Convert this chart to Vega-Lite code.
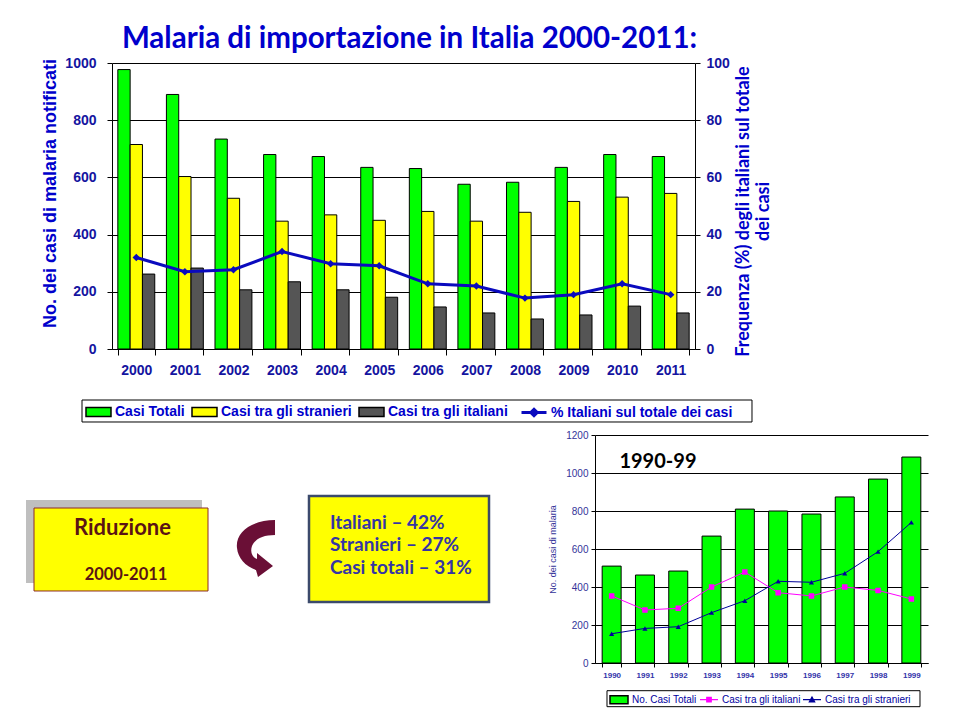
{
  "$schema": "https://vega.github.io/schema/vega-lite/v6.json",
  "width": 583,
  "height": 286,
  "padding": {"left": 112, "top": 63, "right": 265, "bottom": 371},
  "autosize": {"type": "none"},
  "background": "white",
  "config": {"view": {"stroke": null}, "font": "Liberation Sans"},
  "title": {
    "text": "Malaria di importazione in Italia 2000-2011:",
    "font": "Lato",
    "fontSize": 29.5,
    "fontWeight": "bold",
    "color": "#0000CC",
    "anchor": "middle",
    "frame": "group",
    "baseline": "alphabetic",
    "offset": 5,
    "dx": 6,
    "dy": 26
  },
  "datasets": {
    "casi2000": [
      {"anno": "2000", "serie": "Casi Totali", "casi": 977},
      {"anno": "2000", "serie": "Casi tra gli stranieri", "casi": 715},
      {"anno": "2000", "serie": "Casi tra gli italiani", "casi": 262},
      {"anno": "2001", "serie": "Casi Totali", "casi": 890},
      {"anno": "2001", "serie": "Casi tra gli stranieri", "casi": 603},
      {"anno": "2001", "serie": "Casi tra gli italiani", "casi": 283},
      {"anno": "2002", "serie": "Casi Totali", "casi": 734},
      {"anno": "2002", "serie": "Casi tra gli stranieri", "casi": 527},
      {"anno": "2002", "serie": "Casi tra gli italiani", "casi": 207},
      {"anno": "2003", "serie": "Casi Totali", "casi": 680},
      {"anno": "2003", "serie": "Casi tra gli stranieri", "casi": 447},
      {"anno": "2003", "serie": "Casi tra gli italiani", "casi": 235},
      {"anno": "2004", "serie": "Casi Totali", "casi": 673},
      {"anno": "2004", "serie": "Casi tra gli stranieri", "casi": 469},
      {"anno": "2004", "serie": "Casi tra gli italiani", "casi": 207},
      {"anno": "2005", "serie": "Casi Totali", "casi": 635},
      {"anno": "2005", "serie": "Casi tra gli stranieri", "casi": 450},
      {"anno": "2005", "serie": "Casi tra gli italiani", "casi": 181},
      {"anno": "2006", "serie": "Casi Totali", "casi": 631},
      {"anno": "2006", "serie": "Casi tra gli stranieri", "casi": 481},
      {"anno": "2006", "serie": "Casi tra gli italiani", "casi": 147},
      {"anno": "2007", "serie": "Casi Totali", "casi": 576},
      {"anno": "2007", "serie": "Casi tra gli stranieri", "casi": 447},
      {"anno": "2007", "serie": "Casi tra gli italiani", "casi": 126},
      {"anno": "2008", "serie": "Casi Totali", "casi": 583},
      {"anno": "2008", "serie": "Casi tra gli stranieri", "casi": 478},
      {"anno": "2008", "serie": "Casi tra gli italiani", "casi": 105},
      {"anno": "2009", "serie": "Casi Totali", "casi": 635},
      {"anno": "2009", "serie": "Casi tra gli stranieri", "casi": 516},
      {"anno": "2009", "serie": "Casi tra gli italiani", "casi": 119},
      {"anno": "2010", "serie": "Casi Totali", "casi": 680},
      {"anno": "2010", "serie": "Casi tra gli stranieri", "casi": 531},
      {"anno": "2010", "serie": "Casi tra gli italiani", "casi": 150},
      {"anno": "2011", "serie": "Casi Totali", "casi": 673},
      {"anno": "2011", "serie": "Casi tra gli stranieri", "casi": 544},
      {"anno": "2011", "serie": "Casi tra gli italiani", "casi": 126}
    ],
    "perc2000": [
      {"anno": "2000", "pct": 32.0},
      {"anno": "2001", "pct": 27.0},
      {"anno": "2002", "pct": 27.7},
      {"anno": "2003", "pct": 34.1},
      {"anno": "2004", "pct": 29.8},
      {"anno": "2005", "pct": 29.1},
      {"anno": "2006", "pct": 22.8},
      {"anno": "2007", "pct": 22.0},
      {"anno": "2008", "pct": 17.8},
      {"anno": "2009", "pct": 19.0},
      {"anno": "2010", "pct": 22.8},
      {"anno": "2011", "pct": 19.0}
    ],
    "totali90": [
      {"anno": "1990", "serie": "No. Casi Totali", "casi": 510},
      {"anno": "1991", "serie": "No. Casi Totali", "casi": 463},
      {"anno": "1992", "serie": "No. Casi Totali", "casi": 484},
      {"anno": "1993", "serie": "No. Casi Totali", "casi": 668},
      {"anno": "1994", "serie": "No. Casi Totali", "casi": 810},
      {"anno": "1995", "serie": "No. Casi Totali", "casi": 800},
      {"anno": "1996", "serie": "No. Casi Totali", "casi": 784},
      {"anno": "1997", "serie": "No. Casi Totali", "casi": 874},
      {"anno": "1998", "serie": "No. Casi Totali", "casi": 968},
      {"anno": "1999", "serie": "No. Casi Totali", "casi": 1084}
    ],
    "italiani90": [
      {"anno": "1990", "casi": 353},
      {"anno": "1991", "casi": 279},
      {"anno": "1992", "casi": 288},
      {"anno": "1993", "casi": 400},
      {"anno": "1994", "casi": 479},
      {"anno": "1995", "casi": 370},
      {"anno": "1996", "casi": 353},
      {"anno": "1997", "casi": 400},
      {"anno": "1998", "casi": 382},
      {"anno": "1999", "casi": 337}
    ],
    "stranieri90": [
      {"anno": "1990", "casi": 154},
      {"anno": "1991", "casi": 182},
      {"anno": "1992", "casi": 191},
      {"anno": "1993", "casi": 265},
      {"anno": "1994", "casi": 328},
      {"anno": "1995", "casi": 430},
      {"anno": "1996", "casi": 425},
      {"anno": "1997", "casi": 472},
      {"anno": "1998", "casi": 586},
      {"anno": "1999", "casi": 740}
    ]
  },
  "layer": [
    {
      "layer": [
        {
          "data": {"name": "casi2000"},
          "mark": {"type": "bar", "stroke": "black", "strokeWidth": 1},
          "encoding": {
            "x": {
              "field": "anno", "type": "nominal",
              "scale": {"paddingInner": 0.24, "paddingOuter": 0.12},
              "axis": {"title": null, "labelAngle": 0, "tickBand": "extent", "tickSize": 6, "tickColor": "black", "domainColor": "black", "grid": false,
                       "labelFont": "Liberation Sans", "labelFontSize": 14, "labelFontWeight": "bold", "labelColor": "#1414A0", "labelPadding": 8}
            },
            "xOffset": {
              "field": "serie", "type": "nominal",
              "sort": ["Casi Totali", "Casi tra gli stranieri", "Casi tra gli italiani"],
              "scale": {"paddingInner": 0, "paddingOuter": 0}
            },
            "y": {
              "field": "casi", "type": "quantitative",
              "scale": {"domain": [0, 1000], "nice": false},
              "axis": {"orient": "left", "values": [0, 200, 400, 600, 800, 1000], "format": "d", "grid": true, "gridColor": "black", "gridOpacity": 1, "gridWidth": 1,
                       "domainColor": "black", "tickColor": "black", "tickSize": 5,
                       "labelFont": "Liberation Sans", "labelFontSize": 14, "labelFontWeight": "bold", "labelColor": "#1414A0", "labelPadding": 11,
                       "title": "No. dei casi di malaria notificati", "titleFont": "Liberation Sans", "titleFontSize": 18, "titleFontWeight": "bold", "titleColor": "#0000CC",
                       "titleAngle": 270, "titleX": -62, "titleY": 130, "titleAlign": "center", "titleBaseline": "middle"}
            },
            "fill": {
              "field": "serie", "type": "nominal",
              "scale": {"domain": ["Casi Totali", "Casi tra gli stranieri", "Casi tra gli italiani"],
                        "range": ["#00FF00", "#FFFF00", "#555555"]},
              "legend": {
                "orient": "none", "legendX": -27, "legendY": 335.5, "direction": "horizontal", "title": null, "padding": 0,
                "labelFont": "Liberation Sans", "labelFontSize": 14, "labelFontWeight": "bold", "labelColor": "#0000CC", "labelLimit": 400,
                "symbolType": "M-1,-0.36H1V0.36H-1Z", "symbolSize": 625, "symbolOpacity": 1, "labelOffset": 3, "columnPadding": 4
              }
            }
          }
        },
        {
          "data": {"name": "perc2000"},
          "mark": {"type": "line", "strokeWidth": 3, "point": {"shape": "diamond", "size": 55, "filled": true}},
          "encoding": {
            "x": {"field": "anno", "type": "nominal"},
            "y": {
              "field": "pct", "type": "quantitative",
              "scale": {"domain": [0, 100], "nice": false},
              "axis": {"orient": "right", "values": [0, 20, 40, 60, 80, 100], "grid": false,
                       "domainColor": "black", "tickColor": "black", "tickSize": 5,
                       "labelFont": "Liberation Sans", "labelFontSize": 14, "labelFontWeight": "bold", "labelColor": "#1414A0", "labelPadding": 6,
                       "title": ["Frequenza (%) degli italiani sul totale", "dei casi"],
                       "titleFont": "Lato", "titleFontSize": 18, "titleFontWeight": "bold", "titleColor": "#0000CC",
                       "titleAngle": 270, "titleX": 39, "titleY": 148, "titleAlign": "center", "titleBaseline": "top", "titleLineHeight": 20}
            },
            "color": {
              "datum": "% Italiani sul totale dei casi", "type": "nominal",
              "scale": {"domain": ["% Italiani sul totale dei casi"], "range": ["#0A0ABE"]},
              "legend": {
                "orient": "none", "legendX": 408, "legendY": 335.5, "title": null, "padding": 0,
                "labelFont": "Liberation Sans", "labelFontSize": 14, "labelFontWeight": "bold", "labelColor": "#0000CC", "labelLimit": 400,
                "symbolType": "M-1,0H1M-0.26,0L0,-0.26L0.26,0L0,0.26Z", "symbolSize": 625, "symbolOpacity": 1, "symbolFillColor": "#0A0ABE", "symbolStrokeWidth": 3, "labelOffset": 3
              }
            }
          }
        }
      ],
      "resolve": {"scale": {"y": "independent"}}
    },
    {
      "layer": [
        {
          "data": {"name": "totali90"},
          "mark": {"type": "bar", "stroke": "black", "strokeWidth": 1},
          "encoding": {
            "x": {
              "field": "anno", "type": "nominal",
              "scale": {"range": [483, 816], "paddingInner": 0.43, "paddingOuter": 0.215},
              "axis": {"orient": "bottom", "offset": 314, "title": null, "labelAngle": 0, "tickBand": "extent", "tickSize": 4, "tickColor": "black", "domainColor": "black", "grid": false,
                       "labelFont": "Liberation Sans", "labelFontSize": 8, "labelFontWeight": "bold", "labelColor": "#3333AA", "labelPadding": 4}
            },
            "y": {
              "field": "casi", "type": "quantitative",
              "scale": {"domain": [0, 1200], "range": [600, 372], "nice": false},
              "axis": {"orient": "left", "offset": -483, "values": [0, 200, 400, 600, 800, 1000, 1200], "format": "d", "grid": true, "gridColor": "black", "gridOpacity": 1, "gridWidth": 1,
                       "domainColor": "black", "tickColor": "black", "tickSize": 4,
                       "labelFont": "Liberation Sans", "labelFontSize": 10, "labelColor": "#333399", "labelPadding": 3,
                       "title": "No. dei casi di malaria", "titleFont": "Liberation Sans", "titleFontSize": 9, "titleFontWeight": "normal", "titleColor": "#333399", "titlePadding": 8}
            },
            "fill": {
              "field": "serie", "type": "nominal",
              "scale": {"domain": ["No. Casi Totali"], "range": ["#00FF00"]},
              "legend": {
                "orient": "none", "legendX": 497, "legendY": 626.7, "title": null, "padding": 0,
                "labelFont": "Liberation Sans", "labelFontSize": 10, "labelColor": "#0000A0", "labelLimit": 300,
                "symbolType": "M-1,-0.45H1V0.45H-1Z", "symbolSize": 324, "symbolOpacity": 1, "labelOffset": 3
              }
            }
          }
        },
        {
          "data": {"name": "italiani90"},
          "mark": {"type": "line", "strokeWidth": 1, "point": {"shape": "square", "size": 12, "filled": true, "color": "#FF00FF"}},
          "encoding": {
            "x": {"field": "anno", "type": "nominal"},
            "y": {"field": "casi", "type": "quantitative"},
            "stroke": {
              "datum": "Casi tra gli italiani", "type": "nominal",
              "scale": {"domain": ["Casi tra gli italiani"], "range": ["#FF00FF"]},
              "legend": {
                "orient": "none", "legendX": 587, "legendY": 626.7, "title": null, "padding": 0,
                "labelFont": "Liberation Sans", "labelFontSize": 10, "labelColor": "#0000A0", "labelLimit": 300,
                "symbolType": "M-1,0H1M-0.25,-0.25H0.25V0.25H-0.25Z", "symbolSize": 324, "symbolOpacity": 1, "symbolFillColor": "#FF00FF", "symbolStrokeWidth": 1.2, "labelOffset": 3
              }
            }
          }
        },
        {
          "data": {"name": "stranieri90"},
          "mark": {"type": "line", "strokeWidth": 1, "point": {"shape": "triangle-up", "size": 26, "filled": true}},
          "encoding": {
            "x": {"field": "anno", "type": "nominal"},
            "y": {"field": "casi", "type": "quantitative"},
            "color": {
              "datum": "Casi tra gli stranieri", "type": "nominal",
              "scale": {"domain": ["Casi tra gli stranieri"], "range": ["#000099"]},
              "legend": {
                "orient": "none", "legendX": 690, "legendY": 626.7, "title": null, "padding": 0,
                "labelFont": "Liberation Sans", "labelFontSize": 10, "labelColor": "#0000A0", "labelLimit": 300,
                "symbolType": "M-1,0H1M0,-0.3L0.3,0.25H-0.3Z", "symbolSize": 324, "symbolOpacity": 1, "symbolFillColor": "#000099", "symbolStrokeColor": "#000099", "symbolStrokeWidth": 1.2, "labelOffset": 3
              }
            }
          }
        },
        {
          "data": {"values": [{"etichetta": "1990-99"}]},
          "mark": {"type": "text", "font": "Lato", "fontSize": 20, "fontWeight": "bold", "color": "black", "align": "center", "baseline": "middle", "dx": 13},
          "encoding": {
            "x": {"datum": "1991", "type": "nominal"},
            "y": {"datum": 1058, "type": "quantitative"},
            "text": {"field": "etichetta"}
          }
        }
      ]
    },
    {
      "data": {"values": [{}]},
      "layer": [
        {
          "mark": {"type": "rect", "filled": false, "stroke": "black", "strokeWidth": 1},
          "encoding": {
            "x": {"datum": 8.542, "type": "quantitative", "scale": {"domain": [0, 100], "range": [-112, 848], "nice": false, "zero": false}, "axis": null},
            "x2": {"datum": 78.333},
            "y": {"datum": 55.556, "type": "quantitative", "scale": {"domain": [0, 100], "range": [-63, 657], "nice": false, "zero": false}, "axis": null},
            "y2": {"datum": 58.611}
          }
        },
        {
          "mark": {"type": "rect", "filled": false, "stroke": "black", "strokeWidth": 1},
          "encoding": {
            "x": {"datum": 63.229, "type": "quantitative"},
            "x2": {"datum": 95.833},
            "y": {"datum": 95.93, "type": "quantitative"},
            "y2": {"datum": 98.15}
          }
        },
        {
          "mark": {"type": "rect", "fill": "#BFBFBF"},
          "encoding": {
            "x": {"datum": 2.708, "type": "quantitative"},
            "x2": {"datum": 21.042},
            "y": {"datum": 69.444, "type": "quantitative"},
            "y2": {"datum": 80.972}
          }
        },
        {
          "mark": {"type": "rect", "fill": "#FFFF00", "stroke": "#8B2A2A", "strokeWidth": 1},
          "encoding": {
            "x": {"datum": 3.542, "type": "quantitative"},
            "x2": {"datum": 21.667},
            "y": {"datum": 70.556, "type": "quantitative"},
            "y2": {"datum": 82.083}
          }
        },
        {
          "mark": {"type": "text", "text": "Riduzione", "font": "Lato", "fontSize": 22, "fontWeight": "bold", "color": "#5A1414", "align": "center", "baseline": "alphabetic"},
          "encoding": {
            "x": {"datum": 12.76, "type": "quantitative"},
            "y": {"datum": 74.306, "type": "quantitative"}
          }
        },
        {
          "mark": {"type": "text", "text": "2000-2011", "font": "Lato", "fontSize": 16.5, "fontWeight": "bold", "color": "#5A1414", "align": "center", "baseline": "alphabetic"},
          "encoding": {
            "x": {"datum": 13.125, "type": "quantitative"},
            "y": {"datum": 80.556, "type": "quantitative"}
          }
        },
        {
          "mark": {"type": "point", "shape": "M0.667,-0.933C-0.1,-0.933,-0.667,-0.533,-0.6,0C-0.567,0.333,-0.333,0.6,0.033,0.733L0.1,0.967L0.6,0.6L0.067,0.167L0.067,0.367C-0.1,0.3,-0.167,0.133,-0.1,-0.067C0,-0.3,0.267,-0.433,0.667,-0.433Z", "size": 3600, "filled": true, "color": "#6A0F36", "opacity": 1, "strokeWidth": 0},
          "encoding": {
            "x": {"datum": 26.5625, "type": "quantitative"},
            "y": {"datum": 76.111, "type": "quantitative"}
          }
        },
        {
          "mark": {"type": "rect", "fill": "#FFFF00", "stroke": "#3B4A6B", "strokeWidth": 2.5},
          "encoding": {
            "x": {"datum": 32.1875, "type": "quantitative"},
            "x2": {"datum": 50.9375},
            "y": {"datum": 68.889, "type": "quantitative"},
            "y2": {"datum": 83.611}
          }
        },
        {
          "mark": {"type": "text", "text": ["Italiani – 42%", "Stranieri – 27%", "Casi  totali – 31%"], "font": "Lato", "fontSize": 19, "fontWeight": "bold", "color": "#3535A5", "align": "left", "baseline": "alphabetic", "lineHeight": 22.5},
          "encoding": {
            "x": {"datum": 34.375, "type": "quantitative"},
            "y": {"datum": 73.403, "type": "quantitative"}
          }
        }
      ]
    }
  ],
  "resolve": {"scale": {"x": "independent", "y": "independent", "color": "independent", "fill": "independent", "stroke": "independent"}}
}
